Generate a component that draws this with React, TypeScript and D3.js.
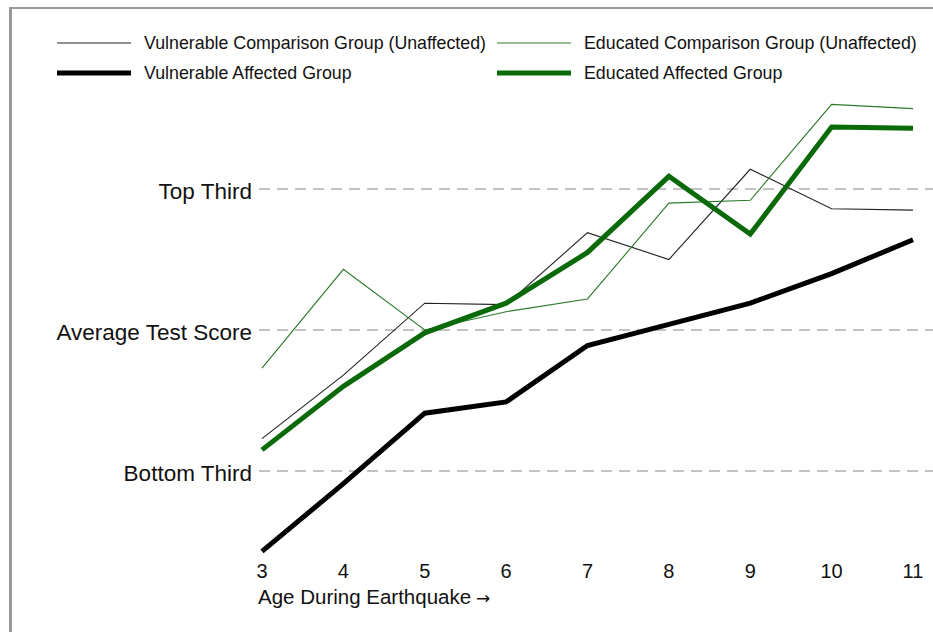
import React from "react";
import * as d3 from "d3";

const ages = [3, 4, 5, 6, 7, 8, 9, 10, 11];
const vulnerableComparison = [-0.77, -0.32, 0.19, 0.18, 0.69, 0.5, 1.14, 0.86, 0.85];
const educatedComparison = [-0.27, 0.43, 0.0, 0.13, 0.22, 0.9, 0.92, 1.6, 1.57];
const vulnerableAffected = [-1.57, -1.09, -0.59, -0.51, -0.11, 0.04, 0.19, 0.4, 0.64];
const educatedAffected = [-0.85, -0.4, -0.02, 0.19, 0.55, 1.09, 0.68, 1.44, 1.43];

const gridValues = [1, 0, -1];
const gridLabels = ["Top Third", "Average Test Score", "Bottom Third"];

const seriesNames = [
  "Vulnerable Comparison Group (Unaffected)",
  "Educated Comparison Group (Unaffected)",
  "Vulnerable Affected Group",
  "Educated Affected Group",
];
const seriesData = [vulnerableComparison, educatedComparison, vulnerableAffected, educatedAffected];
const seriesColors = ["#222222", "#2a7a2a", "#000000", "#0a6a0a"];
const seriesWidths = [1.1, 1.1, 5, 5];

const W = 933;
const H = 632;
const FONT = "'Liberation Sans', Arial, Helvetica, sans-serif";

export default function App() {
  const x = d3.scaleLinear().domain([3, 11]).range([262, 913]);
  const y = d3.scaleLinear().domain([-1, 1]).range([471, 189]);

  const line = d3
    .line<number>()
    .x((_, i) => x(ages[i]))
    .y((d) => y(d));

  const legendPos = [
    { lx: 57, ly: 43 },
    { lx: 497, ly: 43 },
    { lx: 57, ly: 73 },
    { lx: 497, ly: 73 },
  ];

  return (
    <div style={{ position: "absolute", left: 0, top: 0 }}>
      <svg width={W} height={H} style={{ display: "block", background: "#fff" }}>
        <line x1={10} x2={W} y1={8} y2={8} stroke="#9a9a9a" strokeWidth={2} />
        <line x1={10.5} x2={10.5} y1={7} y2={H} stroke="#9a9a9a" strokeWidth={3} />

        {gridValues.map((v, i) => (
          <g key={i}>
            <line
              x1={259}
              x2={W}
              y1={y(v)}
              y2={y(v)}
              stroke="#b0b0b0"
              strokeWidth={1.5}
              strokeDasharray="11,7"
            />
            <text
              x={252}
              y={y(v) + 9.5}
              textAnchor="end"
              fontFamily={FONT}
              fontSize={22.5}
              fill="#111"
            >
              {gridLabels[i]}
            </text>
          </g>
        ))}

        {ages.map((a) => (
          <text
            key={a}
            x={x(a)}
            y={578}
            textAnchor="middle"
            fontFamily={FONT}
            fontSize={20}
            fill="#111"
          >
            {a}
          </text>
        ))}
        <text x={258} y={604} fontFamily={FONT} fontSize={20.5} fill="#111">
          Age During Earthquake
          <tspan fontFamily="'DejaVu Sans', sans-serif" fontSize={17} dx={5}>
            →
          </tspan>
        </text>

        {seriesData.map((s, i) => (
          <path
            key={i}
            d={line(s) || ""}
            fill="none"
            stroke={seriesColors[i]}
            strokeWidth={seriesWidths[i]}
            strokeLinejoin="miter"
          />
        ))}

        {seriesNames.map((n, i) => (
          <g key={n}>
            <line
              x1={legendPos[i].lx}
              x2={legendPos[i].lx + 74}
              y1={legendPos[i].ly}
              y2={legendPos[i].ly}
              stroke={seriesColors[i]}
              strokeWidth={seriesWidths[i]}
            />
            <text
              x={legendPos[i].lx + 87}
              y={legendPos[i].ly + 6.3}
              fontFamily={FONT}
              fontSize={17.8}
              fill="#111"
            >
              {n}
            </text>
          </g>
        ))}
      </svg>
    </div>
  );
}
